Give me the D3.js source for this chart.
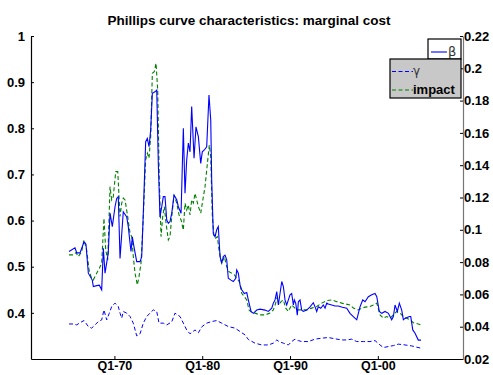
<!DOCTYPE html>
<html><head><meta charset="utf-8">
<script src="https://cdn.jsdelivr.net/npm/d3@7"></script>
<style>
body{margin:0;background:#fff;}
svg{display:block;font-family:"Liberation Sans",Arial,sans-serif;}
</style></head>
<body><svg id="c" width="493" height="375"></svg>
<script>
const title = "Phillips curve characteristics: marginal cost";
const xTicks = [1970, 1980, 1990, 2000];
const xTickLabels = ["Q1-70", "Q1-80", "Q1-90", "Q1-00"];
const leftTicks = [0.4, 0.5, 0.6, 0.7, 0.8, 0.9, 1];
const rightTicks = [0.02, 0.04, 0.06, 0.08, 0.1, 0.12, 0.14, 0.16, 0.18, 0.2, 0.22];
const seriesNames = ["β", "γ", "impact"];

// β (left axis)
const beta = [
[1964.83,0.533],[1965.51,0.541],[1965.71,0.530],[1966.08,0.530],[1966.54,0.554],[1966.76,0.549],[1967.03,0.486],[1967.48,0.471],[1967.60,0.457],[1967.98,0.459],[1968.28,0.460],[1968.55,0.450],[1968.74,0.540],[1968.93,0.486],[1969.30,0.530],[1969.50,0.616],[1969.76,0.587],[1970.07,0.630],[1970.26,0.648],[1970.44,0.652],[1970.64,0.518],[1971.01,0.619],[1971.40,0.608],[1971.58,0.587],[1971.78,0.551],[1971.89,0.533],[1972.04,0.565],[1972.23,0.543],[1972.54,0.511],[1972.92,0.511],[1973.11,0.522],[1973.29,0.616],[1973.56,0.771],[1973.75,0.778],[1973.94,0.760],[1974.13,0.796],[1974.32,0.876],[1974.62,0.879],[1974.82,0.883],[1975.00,0.724],[1975.19,0.608],[1975.39,0.630],[1975.57,0.652],[1975.76,0.652],[1975.96,0.601],[1976.14,0.594],[1976.33,0.598],[1976.53,0.616],[1976.79,0.655],[1977.10,0.645],[1977.28,0.630],[1977.59,0.616],[1977.85,0.800],[1978.04,0.659],[1978.23,0.731],[1978.42,0.768],[1978.61,0.749],[1978.80,0.847],[1979.07,0.735],[1979.29,0.803],[1979.56,0.782],[1979.83,0.724],[1980.01,0.749],[1980.24,0.753],[1980.51,0.760],[1980.77,0.872],[1980.97,0.818],[1981.08,0.688],[1981.26,0.572],[1981.46,0.565],[1981.65,0.580],[1981.83,0.587],[1982.03,0.522],[1982.22,0.507],[1982.40,0.522],[1982.60,0.525],[1982.79,0.515],[1982.97,0.475],[1983.28,0.471],[1983.54,0.468],[1983.82,0.475],[1983.93,0.493],[1984.11,0.486],[1984.31,0.460],[1984.50,0.450],[1984.80,0.442],[1985.07,0.444],[1985.25,0.428],[1985.56,0.403],[1985.82,0.399],[1986.21,0.406],[1986.58,0.408],[1987.15,0.406],[1987.53,0.403],[1987.92,0.410],[1988.10,0.421],[1988.29,0.428],[1988.49,0.446],[1988.67,0.417],[1988.86,0.442],[1989.06,0.468],[1989.24,0.457],[1989.43,0.428],[1989.62,0.417],[1989.81,0.428],[1990.00,0.439],[1990.19,0.442],[1990.38,0.417],[1990.49,0.428],[1990.65,0.421],[1990.83,0.395],[1990.95,0.424],[1991.14,0.428],[1991.33,0.406],[1991.52,0.403],[1991.90,0.406],[1992.28,0.413],[1992.65,0.422],[1992.85,0.413],[1993.04,0.403],[1993.22,0.413],[1993.50,0.410],[1993.79,0.417],[1993.99,0.410],[1994.18,0.421],[1994.36,0.419],[1994.75,0.417],[1995.13,0.415],[1995.50,0.415],[1995.96,0.412],[1996.46,0.410],[1996.83,0.399],[1997.21,0.392],[1997.60,0.385],[1997.78,0.399],[1997.97,0.413],[1998.28,0.428],[1998.54,0.424],[1998.92,0.435],[1999.31,0.439],[1999.68,0.442],[1999.88,0.435],[2000.17,0.403],[2000.45,0.399],[2000.82,0.403],[2001.20,0.399],[2001.58,0.385],[2001.77,0.392],[2001.96,0.417],[2002.22,0.403],[2002.45,0.421],[2002.72,0.406],[2002.91,0.385],[2003.10,0.388],[2003.59,0.392],[2003.75,0.392],[2003.98,0.363],[2004.24,0.356],[2004.61,0.341],[2004.92,0.341]
];

// γ (right axis)
const gamma = [
[1964.83,0.0417],[1965.32,0.0417],[1965.71,0.0411],[1966.08,0.0425],[1966.54,0.0438],[1967.03,0.0401],[1967.41,0.0391],[1967.79,0.0411],[1968.17,0.0432],[1968.55,0.0442],[1968.81,0.0504],[1969.12,0.0442],[1969.42,0.0484],[1969.69,0.0525],[1970.07,0.0546],[1970.44,0.0525],[1970.64,0.0484],[1970.83,0.0453],[1971.01,0.0494],[1971.40,0.0484],[1971.78,0.0463],[1972.15,0.0422],[1972.54,0.0343],[1972.92,0.0356],[1973.29,0.0422],[1973.68,0.0463],[1974.05,0.0484],[1974.43,0.0504],[1974.82,0.0494],[1975.08,0.0422],[1975.57,0.0422],[1975.96,0.0411],[1976.53,0.0430],[1976.90,0.0484],[1977.47,0.0463],[1977.85,0.0422],[1978.23,0.0380],[1978.61,0.0356],[1979.18,0.0380],[1979.56,0.0362],[1979.94,0.0399],[1980.51,0.0422],[1981.08,0.0432],[1981.65,0.0438],[1982.22,0.0422],[1982.97,0.0401],[1983.74,0.0391],[1984.31,0.0370],[1984.88,0.0349],[1985.25,0.0321],[1986.01,0.0298],[1986.78,0.0287],[1987.53,0.0287],[1988.10,0.0298],[1988.49,0.0318],[1988.75,0.0308],[1989.24,0.0298],[1989.81,0.0287],[1990.19,0.0308],[1990.57,0.0323],[1990.95,0.0314],[1991.33,0.0308],[1992.08,0.0308],[1992.85,0.0323],[1993.61,0.0329],[1994.36,0.0333],[1995.13,0.0325],[1995.89,0.0318],[1996.46,0.0318],[1997.03,0.0323],[1997.60,0.0308],[1998.35,0.0308],[1999.11,0.0308],[1999.68,0.0314],[2000.25,0.0287],[2000.63,0.0271],[2001.20,0.0277],[2001.77,0.0283],[2002.34,0.0292],[2003.10,0.0287],[2003.86,0.0281],[2004.43,0.0273],[2004.92,0.0267]
];

// impact (right axis)
const impact = [
[1964.83,0.0845],[1965.32,0.0845],[1965.63,0.0859],[1965.89,0.0834],[1966.27,0.0865],[1966.54,0.0937],[1966.84,0.0875],[1967.11,0.0752],[1967.33,0.0710],[1967.60,0.0690],[1967.98,0.0731],[1968.28,0.0762],[1968.55,0.0793],[1968.81,0.1072],[1969.01,0.0875],[1969.24,0.0814],[1969.50,0.1267],[1969.69,0.1185],[1969.87,0.1205],[1970.15,0.1360],[1970.38,0.1360],[1970.64,0.1082],[1970.83,0.1165],[1971.01,0.1196],[1971.21,0.1185],[1971.51,0.1082],[1971.78,0.0979],[1971.97,0.0958],[1972.15,0.0834],[1972.35,0.0731],[1972.61,0.0659],[1972.80,0.0710],[1973.03,0.0793],[1973.29,0.1082],[1973.56,0.1433],[1973.75,0.1474],[1973.94,0.1443],[1974.13,0.1577],[1974.32,0.1969],[1974.54,0.1979],[1974.74,0.2031],[1974.93,0.1866],[1975.11,0.1309],[1975.31,0.0958],[1975.50,0.1082],[1975.68,0.1144],[1975.88,0.1041],[1976.14,0.0937],[1976.33,0.0958],[1976.53,0.1082],[1976.79,0.1216],[1977.10,0.1165],[1977.36,0.1092],[1977.59,0.1061],[1977.85,0.0999],[1978.04,0.1165],[1978.23,0.1123],[1978.42,0.1154],[1978.61,0.1092],[1978.80,0.1185],[1978.99,0.1165],[1979.18,0.1226],[1979.37,0.1185],[1979.56,0.1144],[1979.83,0.1103],[1980.01,0.1165],[1980.32,0.1267],[1980.63,0.1433],[1980.81,0.1525],[1980.97,0.1453],[1981.15,0.1082],[1981.34,0.0958],[1981.54,0.0948],[1981.72,0.0958],[1981.91,0.0875],[1982.22,0.0793],[1982.52,0.0834],[1982.79,0.0772],[1983.05,0.0741],[1983.36,0.0731],[1983.66,0.0721],[1983.93,0.0700],[1984.23,0.0679],[1984.50,0.0607],[1984.80,0.0586],[1985.07,0.0566],[1985.33,0.0504],[1985.67,0.0486],[1986.01,0.0484],[1986.58,0.0473],[1987.15,0.0473],[1987.72,0.0484],[1988.10,0.0504],[1988.37,0.0546],[1988.55,0.0586],[1988.75,0.0535],[1988.98,0.0555],[1989.24,0.0566],[1989.51,0.0515],[1989.81,0.0494],[1990.19,0.0535],[1990.76,0.0504],[1991.33,0.0504],[1991.90,0.0504],[1992.47,0.0515],[1993.04,0.0525],[1993.61,0.0546],[1994.18,0.0562],[1994.75,0.0566],[1995.32,0.0555],[1995.89,0.0546],[1996.27,0.0541],[1996.83,0.0535],[1997.21,0.0515],[1997.78,0.0504],[1998.17,0.0515],[1998.54,0.0521],[1999.11,0.0525],[1999.49,0.0535],[1999.88,0.0546],[2000.25,0.0473],[2000.63,0.0453],[2001.01,0.0463],[2001.39,0.0453],[2001.77,0.0473],[2002.15,0.0494],[2002.53,0.0484],[2002.91,0.0463],[2003.29,0.0453],[2003.67,0.0442],[2004.04,0.0425],[2004.61,0.0417],[2004.92,0.0411]
];

const svg = d3.select("#c");
const L = 31, R = 463, T = 36, B = 359;
const x = d3.scaleLinear().domain([1960.5, 2009.7]).range([L, R]);
const yL = d3.scaleLinear().domain([0.3, 1]).range([B, T]);
const yR = d3.scaleLinear().domain([0.02, 0.22]).range([B, T]);

// title
svg.append("text").attr("x", 249).attr("y", 25).attr("text-anchor", "middle")
  .attr("font-size", 13.5).attr("font-weight", "bold").text(title);

// lines
const lineL = d3.line().x(d => x(d[0])).y(d => yL(d[1]));
const lineR = d3.line().x(d => x(d[0])).y(d => yR(d[1]));
svg.append("path").attr("d", lineR(gamma)).attr("fill", "none").attr("stroke", "#0000ff")
  .attr("stroke-width", 1).attr("stroke-dasharray", "4,2.5");
svg.append("path").attr("d", lineR(impact)).attr("fill", "none").attr("stroke", "#008000")
  .attr("stroke-width", 1.1).attr("stroke-dasharray", "4,2.5");
svg.append("path").attr("d", lineL(beta)).attr("fill", "none").attr("stroke", "#0000ff")
  .attr("stroke-width", 1.1);

// axes
const gxB = svg.append("g").attr("transform", `translate(0,${B})`)
  .call(d3.axisBottom(x).tickValues(xTicks).tickFormat((d, i) => xTickLabels[i]).tickSizeInner(-3).tickSizeOuter(0).tickPadding(2));
const gyL = svg.append("g").attr("transform", `translate(${L},0)`)
  .call(d3.axisLeft(yL).tickValues(leftTicks).tickFormat(d3.format("~g")).tickSizeInner(-3).tickSizeOuter(0).tickPadding(6));
const gyR = svg.append("g").attr("transform", `translate(${R},0)`)
  .call(d3.axisRight(yR).tickValues(rightTicks).tickFormat(d3.format("~g")).tickSizeInner(-3).tickSizeOuter(0).tickPadding(4));
[gxB, gyL, gyR].forEach(g => {
  g.selectAll("text").attr("font-size", 13).attr("font-weight", "bold").attr("fill", "#000")
    .attr("font-family", "'Liberation Sans',Arial,sans-serif");
  g.selectAll("line").attr("stroke", "#000");
});
gxB.selectAll("text").attr("font-size", 12.5);
gxB.select(".domain").attr("stroke", "#000").attr("stroke-width", 1.2);
gyL.select(".domain").attr("stroke", "#000").attr("stroke-width", 1.2);
gyR.select(".domain").attr("stroke", "#777").attr("stroke-width", 1.2);
gyR.selectAll("text").attr("dx", -3);

// legends
const lg1 = svg.append("g");
lg1.append("rect").attr("x", 428).attr("y", 39).attr("width", 33).attr("height", 20)
  .attr("fill", "#fff").attr("stroke", "#000").attr("stroke-width", 1.2);
lg1.append("line").attr("x1", 431).attr("x2", 447).attr("y1", 52).attr("y2", 52)
  .attr("stroke", "#0000ff").attr("stroke-width", 1.1);
lg1.append("text").attr("x", 448).attr("y", 56).attr("font-size", 13).attr("fill", "#333")
  .attr("font-family", "'DejaVu Sans',sans-serif").text(seriesNames[0]);

const lg2 = svg.append("g");
lg2.append("rect").attr("x", 390).attr("y", 59).attr("width", 71).attr("height", 39)
  .attr("fill", "#c8c8c8").attr("stroke", "#000").attr("stroke-width", 1.2);
lg2.append("line").attr("x1", 392).attr("x2", 413).attr("y1", 71.5).attr("y2", 71.5)
  .attr("stroke", "#0000ff").attr("stroke-width", 1.2).attr("stroke-dasharray", "4,2.5");
lg2.append("text").attr("x", 413).attr("y", 75).attr("font-size", 12).attr("fill", "#333")
  .attr("font-family", "'DejaVu Sans',sans-serif").text(seriesNames[1]);
lg2.append("line").attr("x1", 392).attr("x2", 413).attr("y1", 90).attr("y2", 90)
  .attr("stroke", "#008000").attr("stroke-width", 1.2).attr("stroke-dasharray", "4,2.5");
lg2.append("text").attr("x", 413).attr("y", 94).attr("font-size", 13).attr("font-weight", "bold")
  .attr("fill", "#000").text(seriesNames[2]);
</script></body></html>
